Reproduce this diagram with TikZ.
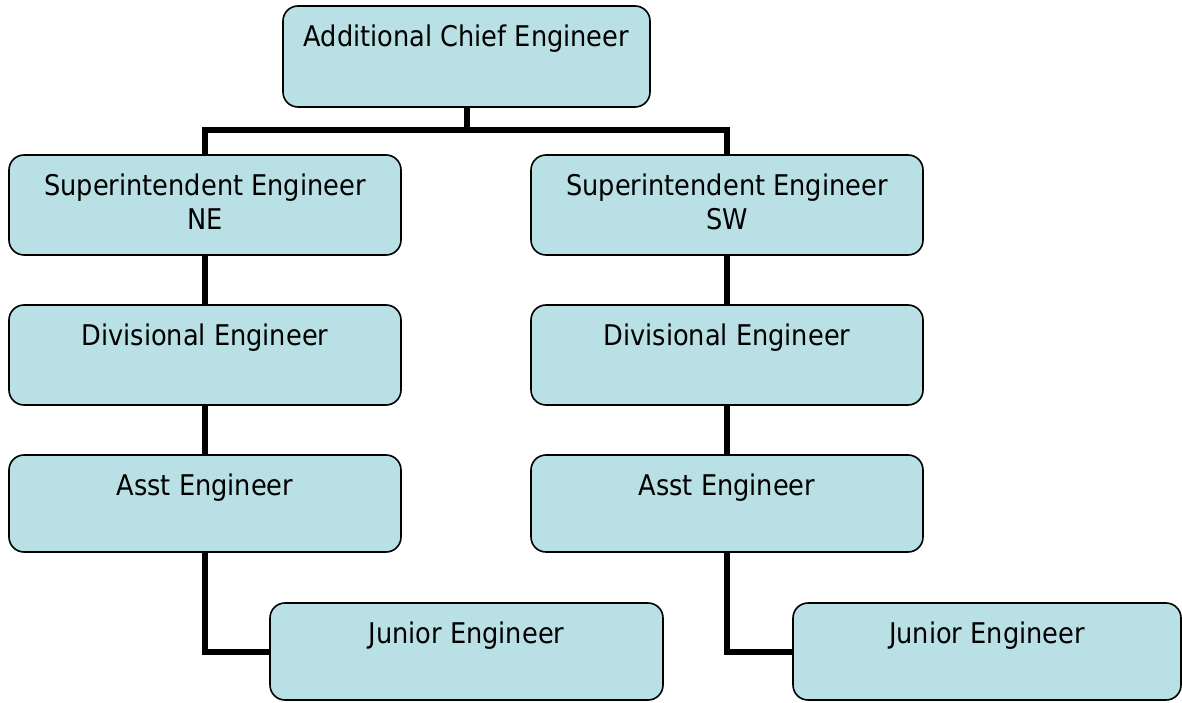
\documentclass[tikz,border=0pt]{standalone}
\usepackage{fontspec}
\setmainfont{DejaVu Sans Condensed}
\usetikzlibrary{backgrounds}
\definecolor{boxfill}{RGB}{185,224,228}
\tikzset{
  box/.style={draw=black, line width=1.6pt, fill=boxfill, rounded corners=15pt,
    minimum width=392pt, minimum height=100pt, inner sep=0pt},
  lab/.style={anchor=north, align=center, inner sep=0pt, font=\fontsize{28.5}{34}\selectfont,
    label distance=-19pt},
  link/.style={line width=6pt, draw=black}
}
\begin{document}
\begin{tikzpicture}[x=1pt,y=1pt]
\useasboundingbox (0,0) rectangle (1182,702);
% boxes
\node[box, minimum width=367pt, minimum height=101pt,
  label={[lab]north:Additional Chief Engineer}] (ace) at (466.5,645.5) {};
\node[box, label={[lab]north:Superintendent Engineer\\NE}] (sene) at (205,497) {};
\node[box, label={[lab]north:Superintendent Engineer\\SW}] (sesw) at (727,497) {};
\node[box, label={[lab]north:Divisional Engineer}] (dene) at (205,347) {};
\node[box, label={[lab]north:Divisional Engineer}] (desw) at (727,347) {};
\node[box, minimum height=97pt, label={[lab]north:Asst Engineer}] (aene) at (205,198.5) {};
\node[box, minimum height=97pt, label={[lab]north:Asst Engineer}] (aesw) at (727,198.5) {};
\node[box, minimum width=393pt, minimum height=97pt, label={[lab]north:Junior Engineer}] (jene) at (466.5,50.5) {};
\node[box, minimum width=388pt, minimum height=97pt, label={[lab]north:Junior Engineer}] (jesw) at (987,50.5) {};
\coordinate (bar) at (466.5,572);
% connectors behind the boxes
\begin{scope}[on background layer]
\draw[link] (ace.south) -- (bar);
\draw[link] (sene.north) |- (bar) -| (sesw.north);
\draw[link] (sene.south) -- (dene.north);
\draw[link] (sesw.south) -- (desw.north);
\draw[link] (dene.south) -- (aene.north);
\draw[link] (desw.south) -- (aesw.north);
\draw[link] (aene.south) |- (jene.west);
\draw[link] (aesw.south) |- (jesw.west);
\end{scope}
\end{tikzpicture}
\end{document}
